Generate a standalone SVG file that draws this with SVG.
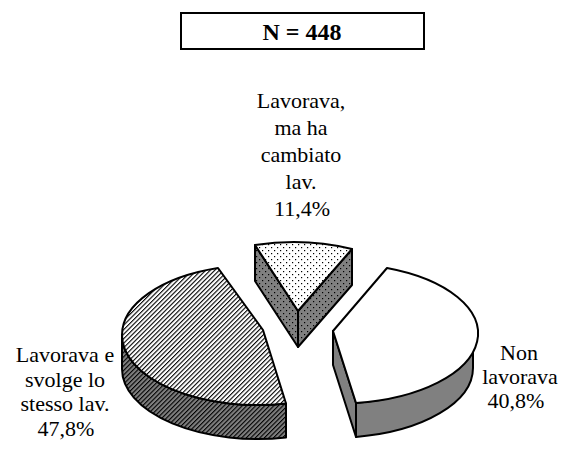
<svg xmlns="http://www.w3.org/2000/svg" width="564" height="458" viewBox="0 0 564 458">
<style>
.lbl{font-family:"Liberation Serif","Times New Roman",Tinos,"Nimbus Roman","Noto Serif","DejaVu Serif",FreeSerif,serif;font-size:22px;text-anchor:middle;fill:#000}
.ttl{font-family:"Liberation Serif","Times New Roman",Tinos,"Nimbus Roman","Noto Serif","DejaVu Serif",FreeSerif,serif;font-size:24px;font-weight:bold;text-anchor:middle;fill:#000}
.edge{stroke:#000;stroke-width:2;stroke-linejoin:round}
.gray{fill:#808080}
.white{fill:#fff}
.hatch{fill:url(#hatch)}
.dots{fill:url(#dots)}
</style>
<defs>
<pattern id="hatch" patternUnits="userSpaceOnUse" width="8" height="3.2" patternTransform="rotate(-45)">
<rect width="8" height="1.1" fill="#000"/>
</pattern>
<pattern id="dots" patternUnits="userSpaceOnUse" width="6" height="6">
<rect x="1" y="1" width="1.2" height="1.2" fill="#000"/>
<rect x="4" y="4" width="1.2" height="1.2" fill="#000"/>
</pattern>
</defs>
<rect width="564" height="458" fill="#fff"/>
<g id="title">
<rect x="181" y="13" width="243" height="36" fill="#fff" stroke="#000" stroke-width="2"/>
<text class="ttl" x="302" y="40">N = 448</text>
</g>
<g id="slice-lavorava-stesso">
<path class="gray" d="M122,335 A136,70 0 0 0 286,403.5 L286,437.5 A136,70 0 0 1 122,369 Z"/>
<path class="hatch edge" d="M122,335 A136,70 0 0 0 286,403.5 L286,437.5 A136,70 0 0 1 122,369 Z"/>
<path class="white" d="M263,330 L218,268 A136,70 0 0 0 122,335 A136,70 0 0 0 286,403.5 Z"/>
<path class="hatch edge" d="M263,330 L218,268 A136,70 0 0 0 122,335 A136,70 0 0 0 286,403.5 Z"/>
</g>
<g id="slice-cambiato">
<path class="gray" d="M255,245 L298,311 L298,347 L255,281 Z"/>
<path class="dots edge" d="M255,245 L298,311 L298,347 L255,281 Z"/>
<path class="gray" d="M298,311 L352,249 L352,285 L298,347 Z"/>
<path class="dots edge" d="M298,311 L352,249 L352,285 L298,347 Z"/>
<path class="white" d="M298,311 L255,245 A136,70 0 0 1 352,249 Z"/>
<path class="dots edge" d="M298,311 L255,245 A136,70 0 0 1 352,249 Z"/>
</g>
<g id="slice-non-lavorava">
<path class="gray edge" d="M333,331 L356,403 L356,437 L333,365 Z"/>
<path class="gray edge" d="M356,403 A140,70 0 0 0 473,334 L473,368 A140,70 0 0 1 356,437 Z"/>
<path class="white edge" d="M333,331 L387,268 A140,70 0 0 1 356,403 Z"/>
</g>
<g id="connectors"/>
<g id="labels">
<text class="lbl" x="301" y="108">Lavorava,</text>
<text class="lbl" x="301" y="135">ma ha</text>
<text class="lbl" x="301" y="162">cambiato</text>
<text class="lbl" x="301" y="189">lav.</text>
<text class="lbl" x="302" y="216">11,4%</text>
<text class="lbl" x="65" y="362">Lavorava e</text>
<text class="lbl" x="65" y="387">svolge lo</text>
<text class="lbl" x="65" y="411">stesso lav.</text>
<text class="lbl" x="66" y="436">47,8%</text>
<text class="lbl" x="519" y="360">Non</text>
<text class="lbl" x="520" y="384">lavorava</text>
<text class="lbl" x="516" y="408">40,8%</text>
</g>
</svg>
